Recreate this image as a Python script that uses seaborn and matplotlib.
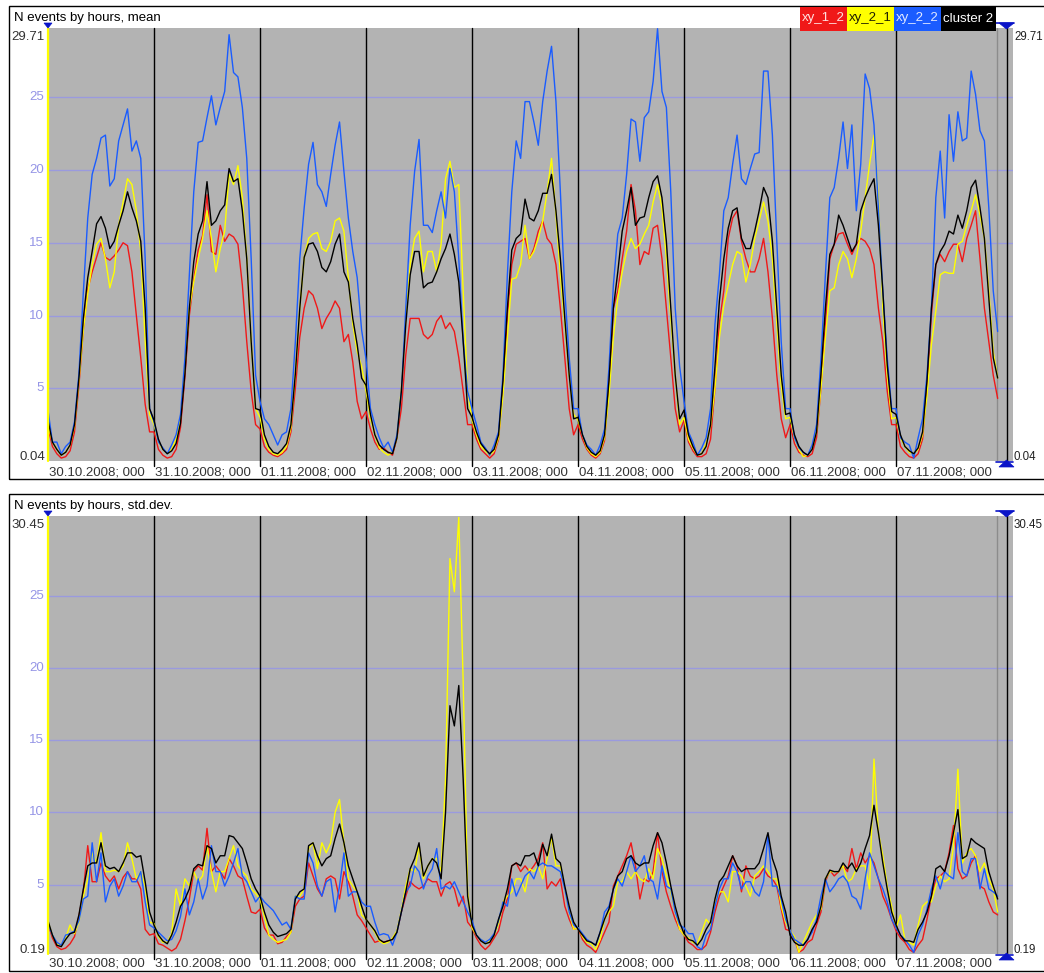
import numpy as np
import pandas as pd
import matplotlib
matplotlib.use("Agg")
import matplotlib.pyplot as plt
import matplotlib.transforms as mtransforms
from matplotlib.patches import Rectangle, Polygon
from matplotlib.lines import Line2D
import seaborn as sns

# ---------------- data ----------------
dates = ["30.10.2008; 000", "31.10.2008; 000", "01.11.2008; 000", "02.11.2008; 000",
         "03.11.2008; 000", "04.11.2008; 000", "05.11.2008; 000", "06.11.2008; 000",
         "07.11.2008; 000"]
series_names = ["xy_1_2", "xy_2_1", "xy_2_2", "cluster 2"]
series_colors = ["#f01818", "#ffff00", "#1a5cff", "#000000"]
hours = list(range(216))

mean_xy_1_2 = [
    2.3, 1.0, 0.5, 0.2, 0.3, 0.7, 2.0, 5.2, 9.0, 11.8, 13.0, 14.0, 15.0, 14.0, 13.8, 14.1, 14.5, 15.0, 14.8, 13.0, 10.0, 7.1, 3.9, 2.0,
    2.0, 0.8, 0.4, 0.2, 0.3, 0.8, 2.3, 5.8, 10.0, 12.5, 14.5, 15.5, 18.3, 14.4, 14.2, 16.2, 15.1, 15.6, 15.4, 14.9, 12.1, 8.2, 4.8, 2.5,
    2.2, 1.0, 0.6, 0.4, 0.3, 0.5, 0.8, 2.0, 5.0, 8.5, 10.5, 11.7, 11.4, 10.5, 9.1, 9.8, 10.3, 11.0, 10.5, 8.2, 8.7, 6.8, 4.1, 2.9,
    3.4, 2.2, 1.3, 0.8, 0.9, 0.6, 0.4, 1.6, 3.6, 7.3, 9.8, 9.8, 9.8, 8.7, 8.4, 8.7, 9.6, 10.0, 9.1, 9.5, 8.9, 7.1, 4.8, 2.5,
    2.5, 1.5, 0.8, 0.5, 0.2, 0.5, 1.5, 5.0, 10.0, 13.5, 14.9, 15.1, 15.3, 13.9, 14.6, 15.8, 16.5, 15.3, 14.9, 13.5, 10.5, 7.1, 3.6, 1.8,
    2.5, 1.5, 0.8, 0.4, 0.2, 0.5, 1.4, 5.0, 10.5, 11.7, 13.9, 15.8, 19.0, 17.2, 13.5, 14.4, 14.2, 16.0, 16.2, 13.9, 10.5, 7.1, 3.6, 2.0,
    2.8, 1.3, 0.7, 0.3, 0.3, 0.5, 1.5, 5.0, 9.5, 11.7, 15.3, 16.7, 17.2, 15.1, 13.9, 13.0, 13.0, 13.9, 15.3, 13.0, 9.8, 5.9, 2.9, 1.6,
    2.5, 1.2, 0.6, 0.4, 0.3, 0.5, 1.6, 5.0, 9.5, 13.9, 14.9, 15.6, 15.7, 14.9, 14.2, 14.9, 15.3, 15.1, 14.6, 13.5, 10.5, 8.2, 4.8, 2.5,
    2.5, 1.0, 0.6, 0.3, 0.2, 0.5, 1.5, 5.0, 10.0, 13.5, 14.2, 13.7, 14.4, 14.9, 14.9, 13.7, 15.3, 16.2, 17.2, 13.9, 10.5, 8.2, 5.9, 4.3,
]
mean_xy_2_1 = [
    2.5, 1.3, 0.8, 0.4, 0.6, 1.1, 2.4, 5.5, 9.0, 11.5, 13.5, 14.9, 15.3, 13.9, 11.9, 13.0, 16.2, 17.8, 19.4, 19.0, 17.2, 14.4, 8.2, 3.2,
    2.5, 1.3, 0.8, 0.5, 0.8, 1.5, 3.0, 6.5, 10.5, 12.3, 13.9, 15.3, 17.2, 15.3, 13.0, 14.6, 15.8, 19.7, 19.0, 20.3, 18.1, 13.9, 8.2, 3.6,
    3.0, 1.5, 0.8, 0.5, 0.4, 0.6, 1.0, 2.3, 6.0, 10.5, 14.0, 15.3, 15.6, 15.7, 14.6, 14.4, 15.1, 16.5, 16.7, 15.8, 12.6, 9.4, 7.5, 6.5,
    4.8, 2.9, 1.8, 0.9, 0.6, 0.4, 0.6, 1.6, 5.0, 9.8, 13.5, 15.3, 15.8, 13.0, 14.4, 14.4, 13.0, 14.9, 19.4, 20.6, 18.8, 19.0, 11.7, 4.8,
    2.8, 1.8, 1.0, 0.7, 0.4, 0.7, 1.6, 4.5, 8.5, 12.5, 12.6, 13.5, 16.2, 13.9, 14.4, 15.3, 16.5, 18.5, 20.8, 16.9, 12.8, 9.4, 5.9, 3.2,
    2.8, 1.8, 0.9, 0.5, 0.3, 0.6, 1.6, 4.5, 8.5, 11.2, 13.0, 14.4, 15.3, 14.6, 14.9, 15.6, 16.2, 17.8, 19.0, 17.4, 13.9, 9.8, 5.9, 2.5,
    3.0, 1.5, 0.9, 0.4, 0.5, 1.2, 2.4, 5.0, 8.5, 10.7, 12.1, 13.5, 14.4, 14.2, 12.3, 13.5, 15.3, 16.5, 17.8, 16.5, 13.9, 9.4, 5.2, 2.9,
    3.0, 1.6, 0.8, 0.3, 0.4, 0.9, 2.0, 5.0, 8.5, 11.7, 11.9, 13.5, 14.4, 13.9, 12.6, 13.9, 15.8, 18.1, 20.4, 22.4, 18.1, 10.5, 5.9, 2.9,
    3.0, 1.6, 1.0, 0.6, 0.5, 0.8, 1.8, 4.5, 8.0, 10.3, 12.8, 13.0, 12.9, 12.9, 14.9, 15.1, 16.2, 17.2, 18.3, 16.9, 15.3, 11.7, 7.5, 5.7,
]
mean_xy_2_2 = [
    3.5, 1.3, 1.3, 0.5, 1.0, 1.3, 2.7, 6.0, 11.6, 16.7, 19.7, 20.8, 22.2, 22.4, 18.9, 19.4, 22.0, 23.1, 24.2, 21.3, 22.0, 20.8, 13.9, 3.6,
    2.7, 1.3, 0.9, 0.5, 1.1, 1.8, 3.2, 7.1, 12.8, 18.5, 21.9, 22.0, 23.6, 25.1, 23.1, 24.3, 25.4, 29.3, 26.7, 26.4, 24.3, 20.8, 13.9, 5.9,
    4.1, 2.9, 2.5, 1.8, 1.1, 1.8, 2.0, 3.6, 8.2, 13.9, 17.4, 20.4, 21.9, 19.0, 18.5, 17.5, 19.7, 21.7, 23.3, 19.9, 16.7, 14.4, 12.6, 9.0,
    7.0, 3.6, 2.5, 1.6, 0.9, 1.3, 0.6, 1.8, 4.8, 10.5, 16.2, 19.9, 22.1, 16.2, 16.2, 15.7, 17.2, 18.5, 16.7, 20.1, 18.5, 13.9, 8.2, 4.8,
    3.6, 2.5, 1.3, 0.9, 0.4, 1.1, 2.0, 5.9, 12.8, 18.5, 22.0, 20.8, 24.7, 24.7, 23.3, 21.7, 24.7, 26.8, 28.5, 24.7, 18.5, 11.7, 7.1, 3.6,
    3.6, 1.8, 1.1, 0.8, 0.4, 1.1, 2.2, 6.4, 12.1, 15.6, 16.7, 19.7, 23.5, 23.3, 20.6, 23.6, 24.0, 26.1, 29.71, 25.4, 24.3, 18.5, 10.5, 6.5,
    4.1, 2.0, 1.3, 0.4, 0.9, 1.6, 3.6, 9.4, 12.8, 17.2, 18.1, 20.4, 22.4, 19.4, 19.0, 20.1, 21.1, 21.2, 26.8, 26.8, 22.4, 15.1, 8.2, 3.6,
    3.6, 1.6, 0.9, 0.6, 0.4, 1.1, 2.5, 7.1, 12.8, 18.1, 18.8, 20.8, 23.3, 20.1, 23.1, 17.2, 20.4, 26.6, 25.6, 23.1, 17.4, 11.7, 7.1, 3.6,
    3.6, 1.6, 1.3, 1.1, 0.2, 1.6, 2.9, 5.9, 10.5, 18.1, 21.3, 16.7, 23.8, 20.6, 24.0, 22.0, 22.2, 26.8, 25.2, 22.7, 22.0, 17.4, 11.7, 8.9,
]
mean_cluster_2 = [
    2.8, 1.3, 0.8, 0.4, 0.6, 1.1, 2.5, 5.7, 9.8, 12.6, 14.4, 16.3, 16.8, 16.0, 14.6, 15.1, 16.2, 17.2, 18.5, 17.4, 16.5, 15.1, 10.5, 3.6,
    2.8, 1.5, 0.8, 0.5, 0.7, 1.2, 2.6, 6.0, 10.5, 13.7, 15.6, 16.5, 19.2, 16.2, 16.5, 17.2, 17.6, 20.1, 19.2, 19.4, 17.2, 13.9, 8.2, 3.6,
    3.5, 1.8, 1.0, 0.6, 0.5, 0.8, 1.2, 2.5, 6.0, 10.5, 14.0, 14.9, 15.0, 14.4, 13.3, 13.0, 13.7, 14.9, 15.6, 13.0, 12.3, 9.8, 8.0, 5.7,
    5.2, 3.2, 1.8, 1.1, 0.8, 0.6, 0.5, 1.6, 4.8, 9.4, 12.8, 14.4, 14.4, 11.9, 12.2, 12.3, 13.0, 13.9, 14.6, 15.6, 14.2, 12.3, 8.2, 3.6,
    3.0, 2.0, 1.2, 0.8, 0.5, 0.8, 1.8, 5.5, 10.5, 14.5, 15.3, 15.6, 18.0, 16.7, 16.5, 17.2, 18.4, 18.4, 19.7, 17.2, 13.9, 9.8, 5.9, 2.9,
    3.0, 1.8, 1.0, 0.6, 0.4, 0.7, 1.8, 5.5, 10.5, 13.0, 15.8, 17.2, 18.8, 16.2, 16.7, 16.8, 18.1, 19.2, 19.6, 18.1, 15.1, 10.5, 5.9, 2.9,
    3.5, 1.8, 1.0, 0.4, 0.5, 1.0, 2.5, 6.5, 11.0, 13.9, 16.0, 17.2, 17.4, 15.3, 14.6, 14.6, 15.8, 17.2, 18.8, 18.1, 15.1, 10.5, 5.9, 3.2,
    3.3, 1.8, 1.0, 0.6, 0.4, 0.8, 2.0, 6.0, 10.5, 14.2, 14.9, 16.9, 16.2, 15.3, 14.4, 14.9, 17.2, 18.1, 18.8, 19.4, 16.2, 11.7, 6.6, 3.4,
    3.2, 1.8, 1.0, 0.7, 0.5, 0.9, 2.0, 5.5, 10.5, 13.5, 14.4, 14.9, 15.8, 15.6, 16.9, 16.0, 17.2, 18.8, 19.3, 17.4, 15.3, 11.2, 7.1, 5.7,
]

std_xy_1_2 = [
    2.3, 1.3, 0.7, 0.5, 0.6, 0.9, 1.4, 2.8, 4.5, 7.7, 5.2, 5.2, 6.5, 5.6, 5.2, 5.6, 4.7, 5.5, 5.9, 5.4, 5.4, 4.7, 1.9, 1.5,
    1.6, 0.9, 0.8, 0.6, 0.4, 0.6, 1.2, 2.5, 4.0, 5.9, 6.3, 6.0, 8.9, 5.9, 6.3, 5.9, 5.4, 6.8, 6.3, 5.6, 5.4, 4.2, 3.1, 3.0,
    3.3, 2.0, 1.5, 1.5, 0.9, 1.0, 1.4, 1.7, 3.5, 4.0, 4.2, 6.5, 5.6, 4.7, 4.2, 5.4, 5.6, 5.4, 4.0, 5.9, 5.2, 4.2, 2.9, 2.5,
    2.0, 1.5, 1.0, 1.1, 1.0, 1.1, 1.2, 1.7, 3.1, 4.2, 5.2, 4.9, 4.7, 4.9, 5.4, 5.2, 5.2, 4.2, 5.0, 5.2, 4.7, 3.5, 4.2, 2.4,
    2.0, 1.3, 0.8, 0.5, 0.8, 1.3, 1.8, 3.1, 4.0, 6.3, 6.5, 5.9, 6.3, 5.9, 6.3, 6.8, 7.9, 4.7, 5.2, 4.9, 5.4, 3.5, 2.6, 1.9,
    2.0, 1.2, 0.8, 0.6, 0.3, 1.0, 1.7, 2.4, 4.9, 5.6, 6.3, 7.0, 7.9, 6.3, 4.0, 5.4, 5.2, 5.9, 8.6, 5.9, 4.5, 3.5, 2.6, 1.9,
    1.5, 1.0, 0.8, 0.5, 0.5, 0.8, 1.7, 3.1, 4.2, 4.9, 5.6, 7.0, 6.3, 4.5, 6.3, 5.6, 5.4, 5.6, 6.1, 5.6, 5.4, 4.9, 3.3, 1.9,
    1.8, 1.2, 0.3, 0.5, 1.0, 1.2, 2.2, 3.1, 5.2, 6.0, 5.6, 5.9, 6.3, 5.9, 7.5, 6.1, 7.2, 6.5, 7.0, 6.5, 5.4, 4.2, 3.5, 2.6,
    1.8, 1.3, 1.0, 0.5, 0.3, 0.8, 1.2, 2.6, 4.2, 5.4, 5.6, 5.9, 7.2, 9.1, 6.1, 5.4, 5.6, 6.5, 7.0, 4.9, 4.7, 3.8, 3.1, 2.9,
]
std_xy_2_1 = [
    2.4, 1.5, 0.9, 0.8, 1.3, 2.2, 1.6, 2.4, 4.2, 5.4, 7.2, 6.5, 8.6, 5.9, 5.9, 6.0, 5.9, 6.3, 7.9, 6.8, 5.4, 5.9, 4.9, 2.4,
    2.3, 1.4, 1.0, 1.0, 1.6, 4.7, 3.5, 5.4, 4.9, 5.9, 5.2, 5.6, 7.7, 5.9, 4.5, 5.9, 5.9, 6.8, 7.7, 6.3, 5.9, 5.6, 4.7, 4.4,
    4.0, 2.8, 1.5, 1.2, 1.0, 1.1, 1.2, 1.7, 4.2, 4.2, 4.7, 7.5, 7.9, 6.1, 7.9, 7.2, 7.9, 10.0, 10.9, 7.9, 5.4, 4.9, 4.5, 2.9,
    2.6, 2.2, 1.7, 1.1, 0.9, 1.0, 1.3, 1.8, 3.2, 4.9, 6.1, 5.9, 7.7, 5.4, 6.3, 6.8, 6.8, 5.9, 12.3, 27.6, 25.3, 30.45, 19.0, 4.5,
    2.0, 1.5, 1.2, 0.9, 1.1, 1.5, 2.3, 3.8, 4.2, 4.5, 5.4, 5.4, 4.5, 6.1, 5.9, 6.3, 5.4, 6.8, 8.3, 6.3, 6.3, 4.7, 3.1, 1.9,
    2.0, 1.4, 1.0, 0.9, 0.5, 1.2, 2.6, 3.1, 3.5, 5.2, 5.2, 5.9, 5.4, 5.9, 5.4, 5.2, 6.1, 5.4, 7.5, 6.8, 5.6, 4.5, 3.1, 1.9,
    1.5, 1.3, 1.0, 0.9, 1.7, 2.6, 2.2, 3.8, 4.5, 4.5, 3.8, 5.9, 5.9, 5.6, 4.9, 4.2, 5.6, 5.9, 6.3, 5.9, 5.4, 5.4, 3.5, 2.4,
    1.8, 1.4, 0.3, 1.0, 1.7, 2.4, 2.9, 3.3, 5.4, 5.9, 5.9, 5.9, 6.3, 5.2, 5.4, 6.1, 6.3, 6.3, 4.7, 13.7, 8.6, 7.0, 4.9, 3.5,
    2.0, 2.9, 1.2, 1.0, 0.8, 2.2, 3.5, 3.8, 3.8, 4.9, 5.6, 5.2, 5.4, 7.7, 13.0, 6.5, 7.2, 7.5, 7.0, 5.9, 6.5, 5.4, 4.7, 3.1,
]
std_xy_2_2 = [
    2.3, 1.5, 1.0, 0.8, 1.5, 1.6, 1.8, 2.5, 4.0, 4.2, 7.9, 5.2, 7.2, 3.8, 4.9, 5.4, 4.2, 4.9, 5.9, 5.2, 5.2, 5.9, 3.8, 2.2,
    2.0, 1.7, 1.4, 1.1, 1.2, 1.8, 2.8, 4.7, 2.9, 3.8, 5.4, 4.0, 4.9, 7.7, 5.9, 5.9, 4.9, 5.6, 6.5, 7.5, 5.6, 5.2, 4.5, 3.8,
    4.2, 3.8, 3.5, 3.2, 2.7, 2.2, 2.4, 1.9, 4.2, 4.0, 4.0, 7.2, 6.5, 4.9, 4.2, 5.2, 5.4, 3.1, 4.9, 7.2, 4.2, 4.5, 4.5, 3.8,
    3.5, 3.5, 2.4, 1.5, 1.6, 1.5, 0.8, 1.7, 3.1, 4.5, 4.9, 6.3, 5.9, 4.7, 5.6, 6.1, 7.5, 4.7, 4.9, 4.7, 5.2, 4.5, 3.8, 3.1,
    2.5, 1.5, 1.2, 1.0, 1.2, 1.6, 2.5, 3.8, 3.5, 5.4, 4.2, 4.9, 5.6, 5.9, 5.4, 6.3, 6.5, 6.3, 6.3, 6.1, 5.9, 4.7, 3.1, 2.2,
    2.0, 1.6, 1.2, 1.0, 0.8, 1.7, 3.1, 3.5, 4.7, 5.4, 4.9, 5.9, 7.0, 5.9, 6.3, 7.0, 5.4, 5.2, 4.0, 6.3, 4.9, 4.7, 3.1, 2.2,
    2.0, 1.6, 1.6, 0.7, 0.5, 1.5, 1.9, 3.5, 4.7, 5.4, 5.4, 6.5, 5.9, 4.7, 5.2, 5.2, 4.5, 4.2, 5.2, 8.5, 4.9, 4.9, 4.0, 2.6,
    1.8, 1.2, 1.0, 0.8, 1.2, 1.7, 2.6, 4.2, 5.4, 4.5, 4.9, 5.4, 5.6, 5.2, 4.2, 4.0, 3.3, 5.4, 7.2, 6.3, 5.4, 4.7, 3.8, 2.6,
    2.0, 1.5, 1.2, 0.8, 0.3, 1.5, 2.2, 3.3, 4.7, 5.6, 4.7, 5.9, 5.6, 5.4, 8.6, 5.9, 5.6, 6.8, 6.8, 4.7, 6.1, 4.7, 4.5, 4.2,
]
std_cluster_2 = [
    2.5, 1.5, 0.8, 0.7, 1.2, 1.6, 1.7, 2.9, 4.7, 6.3, 6.5, 6.5, 7.9, 6.3, 6.1, 6.2, 5.9, 6.5, 7.2, 7.2, 6.9, 7.0, 5.2, 3.1,
    2.2, 1.5, 1.1, 0.9, 1.5, 2.4, 3.5, 4.0, 4.7, 6.1, 6.4, 6.3, 7.7, 7.5, 6.5, 7.0, 7.0, 8.4, 8.3, 7.9, 7.5, 6.5, 5.4, 4.7,
    4.2, 3.1, 2.2, 1.7, 1.4, 1.5, 1.6, 1.9, 4.0, 4.5, 4.7, 7.7, 7.9, 7.0, 6.3, 6.8, 7.0, 8.2, 9.2, 7.9, 6.3, 5.4, 4.5, 3.5,
    2.6, 2.2, 1.8, 1.2, 1.0, 1.1, 1.2, 1.7, 3.1, 4.5, 6.1, 6.8, 7.9, 5.6, 6.3, 6.8, 6.5, 5.4, 10.0, 17.4, 16.0, 18.8, 12.3, 4.2,
    2.2, 1.5, 1.1, 0.9, 1.0, 1.5, 2.6, 3.5, 4.7, 6.3, 6.5, 6.3, 7.0, 7.0, 7.2, 6.3, 7.8, 7.0, 8.5, 6.8, 6.5, 4.9, 3.5, 2.4,
    1.9, 1.5, 1.1, 1.0, 0.8, 1.7, 2.6, 3.3, 4.7, 5.6, 5.9, 6.8, 7.0, 6.5, 6.3, 6.5, 6.5, 7.7, 8.6, 7.9, 6.5, 4.9, 3.5, 2.4,
    1.6, 1.2, 1.1, 0.8, 1.2, 1.9, 2.4, 4.0, 5.2, 5.6, 6.3, 7.0, 6.3, 5.9, 6.1, 6.1, 6.1, 6.5, 7.5, 8.6, 6.8, 5.9, 4.2, 3.1,
    1.5, 1.0, 0.8, 0.8, 1.2, 1.9, 2.4, 3.5, 5.4, 6.0, 5.9, 5.9, 6.5, 6.1, 6.5, 5.9, 6.5, 7.5, 8.4, 10.5, 8.6, 6.5, 4.7, 3.1,
    2.2, 1.5, 1.1, 1.1, 1.0, 1.9, 2.4, 3.1, 4.2, 6.1, 6.3, 5.9, 7.0, 8.6, 10.2, 6.8, 7.0, 8.2, 7.9, 7.7, 7.5, 5.9, 4.9, 4.0,
]

mean_tick_values = [5, 10, 15, 20, 25]
std_tick_values = [5, 10, 15, 20, 25]

# ---------------- layout helpers ----------------
W, H = 1044, 973
sns.set_style("white")
plt.rcParams["font.family"] = ["Liberation Sans", "DejaVu Sans"]
FS = 9.5
FS_RIGHT = 8.3

fig = plt.figure(figsize=(W / 100, H / 100), dpi=100)
fig.patch.set_facecolor("white")


def fx(x):
    return x / W


def fy(y):
    return 1 - y / H


def ftext(x, y, s, **kw):
    fig.text(fx(x), fy(y), s, fontsize=kw.pop("fontsize", FS), **kw)


def fpoly(pts, color):
    fig.add_artist(Polygon([(fx(a), fy(b)) for a, b in pts], closed=True,
                           transform=fig.transFigure, facecolor=color,
                           edgecolor=color, lw=0.5))


def fline(x0, y0, x1, y1, color, lw=1.0):
    fig.add_artist(Line2D([fx(x0), fx(x1)], [fy(y0), fy(y1)],
                          transform=fig.transFigure, color=color, lw=lw))


PX_PER_H = 4.417
X0, X1 = 48, 1013


def panel(values, top, bot, ymin, ymax, title, title_y, box, lab_top, lab_bot,
          date_y, ticks):
    ax = fig.add_axes([fx(X0), fy(bot), fx(X1) - fx(X0), fy(top) - fy(bot)])
    ax.set_facecolor("#b3b3b3")
    for s in ax.spines.values():
        s.set_visible(False)
    hpx = bot - top

    rows = []
    for name, vals in zip(series_names, values):
        for h, v in zip(hours, vals):
            rows.append((h, v, name))
    df = pd.DataFrame(rows, columns=["hour", "value", "series"])
    sns.lineplot(data=df, x="hour", y="value", hue="series",
                 hue_order=series_names,
                 palette=dict(zip(series_names, series_colors)),
                 estimator=None, sort=False, linewidth=1.0, legend=False,
                 ax=ax, zorder=3)

    ax.set_xlim(0, (X1 - X0) / PX_PER_H)
    ax.set_ylim(ymin, ymax)
    ax.set_xlabel("")
    ax.set_ylabel("")
    ax.set_yticks([])
    ax.set_xticks(hours)
    ax.tick_params(axis="x", length=3, width=0.8, color="#9a9a9a",
                   direction="out", labelbottom=False)

    for v in ticks:
        ax.axhline(v, color="#9a9ade", lw=1.0, zorder=1)
    for d in range(1, 9):
        ax.axvline(24 * d, ymin=-5 / hpx, ymax=1, color="black", lw=1.0,
                   zorder=2, clip_on=False)
    # end of data / right axis
    ax.axvline((996.5 - X0) / PX_PER_H, color="#8c8c8c", lw=1.0, zorder=2)
    ax.axvline((1007 - X0) / PX_PER_H, color="black", lw=1.0, zorder=2)
    # yellow left axis
    ax.axvline(0, color="#ffff00", lw=1.6, zorder=4, clip_on=False)

    # tick labels (left)
    trans = mtransforms.blended_transform_factory(ax.transAxes, ax.transData)
    for v in ticks:
        ax.text(-0.004, v, str(v), transform=trans, ha="right", va="center",
                fontsize=FS, color="#9595e6")
    ftext(45, top + 9, lab_top, ha="right", va="center", color="#333333")
    ftext(45, bot - 4, lab_bot, ha="right", va="center", color="#333333")
    # right labels
    ftext(1014, top + 9, lab_top, ha="left", va="center", color="#222222",
          fontsize=FS_RIGHT)
    ftext(1014, bot - 4, lab_bot, ha="left", va="center", color="#222222",
          fontsize=FS_RIGHT)

    # date labels
    for i, dname in enumerate(dates):
        ftext(X0 + i * 24 * PX_PER_H + 1, date_y, dname, ha="left",
              va="center", color="#333333")

    # title
    ftext(14, title_y, title, ha="left", va="center", color="black")

    # outer box
    bx0, by0, by1 = box
    fig.add_artist(Rectangle((fx(bx0), fy(by1)), fx(1080) - fx(bx0),
                             fy(by0) - fy(by1), transform=fig.transFigure,
                             fill=False, edgecolor="black", lw=1.0))

    # blue range markers
    blue = "#0a14c8"
    fpoly([(44, top - 5), (52, top - 5), (48, top)], blue)
    fline(996, top - 5, 1014, top - 5, blue, 1.2)
    fpoly([(999, top - 5), (1014, top - 5), (1006.5, top + 1)], blue)
    fline(996, bot + 0.5, 1013, bot + 0.5, blue, 1.2)
    fpoly([(999, bot + 6), (1014, bot + 6), (1006.5, bot - 1)], blue)
    return ax


ax1 = panel([mean_xy_1_2, mean_xy_2_1, mean_xy_2_2, mean_cluster_2],
            top=28, bot=461, ymin=0.0, ymax=29.76,
            title="N events by hours, mean", title_y=17.5,
            box=(9, 6, 479), lab_top="29.71", lab_bot="0.04",
            date_y=472, ticks=mean_tick_values)

ax2 = panel([std_xy_1_2, std_xy_2_1, std_xy_2_2, std_cluster_2],
            top=516, bot=954, ymin=0.19, ymax=30.55,
            title="N events by hours, std.dev.", title_y=506,
            box=(9, 494, 971), lab_top="30.45", lab_bot="0.19",
            date_y=964, ticks=std_tick_values)

# legend boxes (top right)
leg_x = [800, 847, 894, 941, 996]
leg_text_colors = ["#ffe0e0", "#202000", "#e0e8ff", "#ffffff"]
for i, (name, col, tcol) in enumerate(zip(series_names, series_colors,
                                           leg_text_colors)):
    x0, x1 = leg_x[i], leg_x[i + 1]
    fig.add_artist(Rectangle((fx(x0), fy(31)), fx(x1) - fx(x0), fy(7) - fy(31),
                             transform=fig.transFigure, facecolor=col,
                             edgecolor="none", zorder=10))
    fig.text(fx((x0 + x1) / 2), fy(18.5), name, ha="center", va="center",
             fontsize=FS, color=tcol, zorder=11)

fig.savefig("out.png", dpi=100, facecolor="white")
